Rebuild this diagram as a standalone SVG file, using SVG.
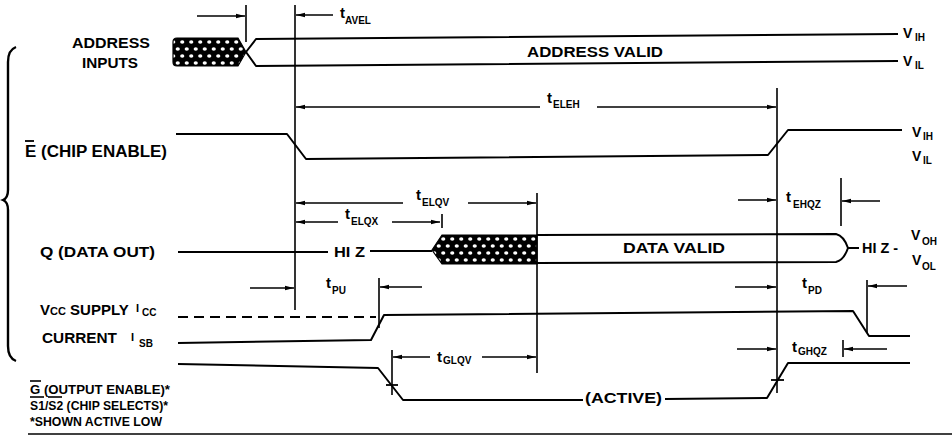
<svg xmlns="http://www.w3.org/2000/svg" width="952" height="440" viewBox="0 0 952 440">
<style>
  .sig{fill:none;stroke:#000;stroke-width:2;stroke-linejoin:round}
  .vl{fill:none;stroke:#000;stroke-width:1.6}
  .ar{fill:none;stroke:#000;stroke-width:1.4;marker-end:url(#ah)}
  .lb{font-family:"Liberation Sans",Arial,Helvetica,sans-serif;font-weight:bold;fill:#000}
  .t{font-family:"Liberation Sans",Arial,Helvetica,sans-serif;font-weight:bold;font-size:15px;fill:#000}
  .s{font-family:"Liberation Sans",Arial,Helvetica,sans-serif;font-weight:bold;font-size:10px;fill:#000}
</style>
<defs>
  <marker id="ah" markerWidth="10" markerHeight="6" refX="9" refY="3" orient="auto" markerUnits="userSpaceOnUse">
    <path d="M0,0.8 L9,3 L0,5.2 Z" fill="#000"/>
  </marker>
  <pattern id="hatchA" patternUnits="userSpaceOnUse" x="0" y="38" width="9" height="14">
    <rect width="9" height="14" fill="#000"/>
    <ellipse cx="2.25" cy="4" rx="2.1" ry="1.7" fill="#fff"/>
    <ellipse cx="6.75" cy="11" rx="2.1" ry="1.7" fill="#fff"/>
  </pattern>
  <pattern id="hatchQ" patternUnits="userSpaceOnUse" x="0" y="235" width="9" height="14">
    <rect width="9" height="14" fill="#000"/>
    <ellipse cx="2.25" cy="4" rx="2.1" ry="1.7" fill="#fff"/>
    <ellipse cx="6.75" cy="11" rx="2.1" ry="1.7" fill="#fff"/>
  </pattern>
</defs>
<rect width="952" height="440" fill="#fff"/>

<!-- brace -->
<g id="brace">
  <path d="M16,47 Q8,50 8,62 L8,190 Q8,198 3,200 Q8,202 8,210 L8,346 Q8,358 16,361" fill="none" stroke="#000" stroke-width="2.4"/>
</g>

<!-- Address inputs -->
<g id="address">
  <text class="lb" x="72" y="48" font-size="15" textLength="78" lengthAdjust="spacingAndGlyphs">ADDRESS</text>
  <text class="lb" x="82" y="68" font-size="15" textLength="56" lengthAdjust="spacingAndGlyphs">INPUTS</text>
  <path d="M177,38 L238,38 L246,52 L238,66 L177,66 Q173,66 173,62 L173,42 Q173,38 177,38 Z" fill="url(#hatchA)" stroke="#000" stroke-width="1.2"/>
  <path class="sig" d="M246,52 L256,39 L898,34"/>
  <path class="sig" d="M246,52 L256,66 L898,61"/>
  <text class="lb" x="527" y="57" font-size="14" textLength="136" lengthAdjust="spacingAndGlyphs">ADDRESS VALID</text>
  <text class="lb" x="903" y="38" font-size="14">V</text><text class="s" x="915" y="41">IH</text>
  <text class="lb" x="903" y="66" font-size="14">V</text><text class="s" x="915" y="69">IL</text>
</g>

<!-- Chip enable -->
<g id="chip-enable">
  <text class="lb" x="25" y="157" font-size="16" textLength="142" lengthAdjust="spacingAndGlyphs">E (CHIP ENABLE)</text>
  <line x1="25" y1="141" x2="34" y2="141" stroke="#000" stroke-width="1.8"/>
  <path class="sig" d="M176,134 L287,134 L306,159 L768,155 L788,130 L902,130"/>
  <text class="lb" x="912" y="137" font-size="14">V</text><text class="s" x="923" y="140">IH</text>
  <text class="lb" x="912" y="161" font-size="14">V</text><text class="s" x="923" y="164">IL</text>
</g>

<!-- Data out -->
<g id="data-out">
  <text class="lb" x="40" y="257" font-size="15" textLength="115" lengthAdjust="spacingAndGlyphs">Q (DATA OUT)</text>
  <path class="sig" d="M178,252 L328,252"/>
  <text class="lb" x="334" y="257" font-size="14" textLength="31" lengthAdjust="spacingAndGlyphs">HI Z</text>
  <path class="sig" d="M370,251 L432,251"/>
  <path d="M432,250 L442,235 L537,235 L537,264 L442,264 Z" fill="url(#hatchQ)" stroke="#000" stroke-width="1.2"/>
  <path class="sig" d="M537,235 L836,234 Q844,236 848,248 Q844,260 836,262 L537,263"/>
  <path class="sig" d="M848,248 L859,248"/>
  <text class="lb" x="623" y="253" font-size="14" textLength="102" lengthAdjust="spacingAndGlyphs">DATA VALID</text>
  <text class="lb" x="862" y="253" font-size="14" textLength="36" lengthAdjust="spacingAndGlyphs">HI Z -</text>
  <text class="lb" x="911" y="240" font-size="14">V</text><text class="s" x="922" y="245">OH</text>
  <text class="lb" x="912" y="265" font-size="14">V</text><text class="s" x="922" y="270">OL</text>
</g>

<!-- Vcc supply current -->
<g id="supply-current">
  <text class="lb" x="40" y="315" font-size="15">V<tspan font-size="11">CC</tspan> SUPPLY</text>
  <text class="lb" x="136" y="312" font-size="11">I</text><text class="s" x="142" y="316">CC</text>
  <text class="lb" x="42" y="343" font-size="15" textLength="75" lengthAdjust="spacingAndGlyphs">CURRENT</text>
  <text class="lb" x="131" y="341" font-size="11">I</text><text class="s" x="139" y="347">SB</text>
  <path class="sig" d="M178,317 L376,317" stroke-dasharray="10 6"/>
  <path class="sig" d="M178,343 L371,340 L384,315 L853,311 L869,336 L910,336"/>
</g>

<!-- Output enable / chip selects -->
<g id="output-enable">
  <text class="lb" x="30" y="394" font-size="13" textLength="140" lengthAdjust="spacingAndGlyphs">G (OUTPUT ENABLE)*</text>
  <line x1="30" y1="381" x2="41" y2="381" stroke="#000" stroke-width="1.6"/>
  <text class="lb" x="30" y="410" font-size="13" textLength="138" lengthAdjust="spacingAndGlyphs">S1/S2 (CHIP SELECTS)*</text>
  <line x1="30" y1="397" x2="44" y2="397" stroke="#000" stroke-width="1.6"/>
  <line x1="48" y1="397" x2="62" y2="397" stroke="#000" stroke-width="1.6"/>
  <text class="lb" x="30" y="426" font-size="13" textLength="132" lengthAdjust="spacingAndGlyphs">*SHOWN ACTIVE LOW</text>
  <path class="sig" d="M178,364 L378,368 L403,400 L583,400"/>
  <text class="lb" x="585" y="403" font-size="14" textLength="77" lengthAdjust="spacingAndGlyphs">(ACTIVE)</text>
  <path class="sig" d="M665,399 L767,398 L788,363 L910,363"/>
  <line x1="386" y1="385" x2="398" y2="385" stroke="#000" stroke-width="1.8"/>
  <line x1="771" y1="380" x2="784" y2="380" stroke="#000" stroke-width="1.8"/>
</g>

<!-- timing connectors -->
<g id="connectors">
  <line class="vl" x1="246" y1="5" x2="246" y2="42"/>
  <line class="vl" x1="295" y1="5" x2="295" y2="310"/>
  <line class="vl" x1="777" y1="88" x2="777" y2="393"/>
  <line class="vl" x1="537" y1="193" x2="537" y2="373"/>
  <line class="vl" x1="392" y1="350" x2="392" y2="395"/>
  <line class="vl" x1="442" y1="214" x2="442" y2="228"/>
  <line class="vl" x1="841" y1="178" x2="841" y2="226"/>
  <line class="vl" x1="379" y1="278" x2="379" y2="328"/>
  <line class="vl" x1="867" y1="280" x2="867" y2="333"/>
  <line class="vl" x1="843" y1="340" x2="843" y2="357"/>

  <line class="ar" x1="197" y1="16" x2="245" y2="16"/>
  <line class="ar" x1="333" y1="15" x2="296" y2="15"/>
  <line class="ar" x1="540" y1="107" x2="296" y2="107"/>
  <line class="ar" x1="597" y1="107" x2="776" y2="107"/>
  <line class="ar" x1="403" y1="203" x2="296" y2="203"/>
  <line class="ar" x1="468" y1="203" x2="536" y2="203"/>
  <line class="ar" x1="338" y1="222" x2="296" y2="222"/>
  <line class="ar" x1="392" y1="222" x2="440" y2="222"/>
  <line class="ar" x1="738" y1="200" x2="776" y2="200"/>
  <line class="ar" x1="880" y1="201" x2="842" y2="201"/>
  <line class="ar" x1="250" y1="288" x2="294" y2="288"/>
  <line class="ar" x1="422" y1="287" x2="380" y2="287"/>
  <line class="ar" x1="735" y1="287" x2="776" y2="287"/>
  <line class="ar" x1="907" y1="286" x2="868" y2="286"/>
  <line class="ar" x1="430" y1="357" x2="393" y2="357"/>
  <line class="ar" x1="482" y1="357" x2="536" y2="357"/>
  <line class="ar" x1="737" y1="349" x2="776" y2="349"/>
  <line class="ar" x1="887" y1="349" x2="844" y2="349"/>

  <text class="t" x="340" y="18">t</text><text class="s" x="345" y="24">AVEL</text>
  <text class="t" x="547" y="103">t</text><text class="s" x="553" y="108">ELEH</text>
  <text class="t" x="416" y="200">t</text><text class="s" x="422" y="206">ELQV</text>
  <text class="t" x="345" y="219">t</text><text class="s" x="351" y="225">ELQX</text>
  <text class="t" x="786" y="202">t</text><text class="s" x="793" y="208">EHQZ</text>
  <text class="t" x="326" y="288">t</text><text class="s" x="332" y="294">PU</text>
  <text class="t" x="802" y="288">t</text><text class="s" x="808" y="294">PD</text>
  <text class="t" x="437" y="362">t</text><text class="s" x="443" y="364">GLQV</text>
  <text class="t" x="792" y="352">t</text><text class="s" x="798" y="355">GHQZ</text>

  <line x1="28" y1="434" x2="952" y2="434" stroke="#000" stroke-width="1.6"/>
</g>
</svg>
